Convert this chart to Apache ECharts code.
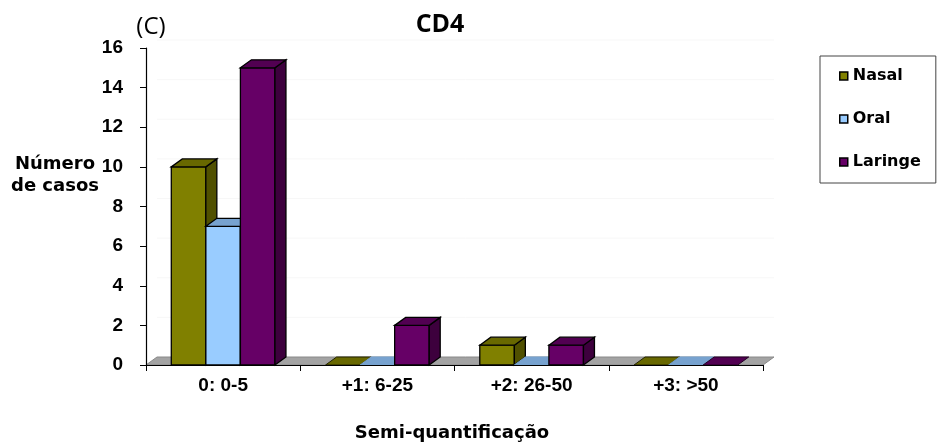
<!DOCTYPE html>
<html>
<head>
<meta charset="utf-8">
<script src="https://cdn.jsdelivr.net/npm/echarts@6/dist/echarts.min.js"></script>
<style>
  html, body { margin: 0; padding: 0; background: #fff; }
  #chart { width: 938px; height: 443px; }
</style>
</head>
<body>
<div id="chart"></div>
<script>
// Semi-quantification classes on the x axis
const categories = ['0: 0-5', '+1: 6-25', '+2: 26-50', '+3: >50'];
// Number of cases per site
const nasal = [10, 0, 1, 0];
const oral = [7, 0, 0, 0];
const laringe = [15, 2, 1, 0];
// Value-axis ticks
const yMin = 0, yMax = 16, yStep = 2;

// Depth offset of the pseudo-3D boxes (pixels)
const DX = 11, DY = -8;

const looks = {
  Nasal:   { front: '#808000', top: '#686800', side: '#505000', edge: '#222200' },
  Oral:    { front: '#99ccff', top: '#77a2cf', side: '#7aa3cc', edge: '#77a2cf' },
  Laringe: { front: '#660066', top: '#520052', side: '#3d003d', edge: '#220022' }
};

// Draws one box per data item; slot is the bar's position inside its category group
function boxRenderer(slot, c) {
  return function (params, api) {
    const cat = api.value(0), v = api.value(1);
    const band = api.size([1, 0])[0];
    const bw = band * 0.224;
    const base = api.coord([cat, 0]);
    const head = api.coord([cat, v]);
    const cx = base[0] + slot * bw;
    const x0 = cx - bw / 2, x1 = cx + bw / 2;
    const yb = base[1], yt = head[1];
    const lw = 1.3;
    const kids = [];
    if (v > 0) {
      kids.push({ type: 'rect', shape: { x: x0, y: yt, width: bw, height: yb - yt },
        style: { fill: c.front, stroke: '#000', lineWidth: lw } });
      kids.push({ type: 'polygon', shape: { points: [[x1, yt], [x1 + DX, yt + DY], [x1 + DX, yb + DY], [x1, yb]] },
        style: { fill: c.side, stroke: '#000', lineWidth: lw } });
    }
    kids.push({ type: 'polygon', shape: { points: [[x0, yt], [x0 + DX, yt + DY], [x1 + DX, yt + DY], [x1, yt]] },
      style: { fill: c.top, stroke: v > 0 ? '#000' : c.edge, lineWidth: v > 0 ? lw : 1 } });
    return { type: 'group', children: kids };
  };
}

// Gray floor under the boxes plus faint back-wall gridlines
function floorRenderer(params, api) {
  const band = api.size([1, 0])[0];
  const p0 = api.coord([0, 0]);
  const p3 = api.coord([categories.length - 1, 0]);
  const xl = p0[0] - band / 2, xr = p3[0] + band / 2, y = p0[1];
  const kids = [];
  for (let t = yStep; t <= yMax; t += yStep) {
    const yy = api.coord([0, t])[1] + DY;
    kids.push({ type: 'line', shape: { x1: xl + DX, y1: yy, x2: xr + DX, y2: yy },
      style: { stroke: '#f7f7f7', lineWidth: 1 } });
  }
  kids.push({ type: 'polygon', shape: { points: [[xl, y], [xl + DX, y + DY], [xr + DX, y + DY], [xr, y]] },
    style: { fill: '#a3a3a3', stroke: '#8a8a8a', lineWidth: 1 } });
  return { type: 'group', children: kids };
}

const toData = arr => arr.map((v, i) => [i, v]);

const chart = echarts.init(document.getElementById('chart'), null, { renderer: 'canvas' });

chart.setOption({
  animation: false,
  backgroundColor: '#fff',
  grid: { left: 146, right: 175, top: 48, bottom: 78 },
  xAxis: {
    type: 'category',
    data: categories,
    z: 5,
    axisLine: { lineStyle: { color: '#000', width: 1.2 } },
    axisTick: { show: true, length: 6, lineStyle: { color: '#000' } },
    axisLabel: { fontFamily: 'Liberation Sans', fontWeight: 'bold', fontSize: 19, color: '#000', margin: 11 }
  },
  yAxis: {
    type: 'value',
    min: yMin, max: yMax, interval: yStep,
    z: 5,
    splitLine: { show: false },
    axisLine: { show: true, lineStyle: { color: '#000', width: 1.2 } },
    axisTick: { show: true, length: 6, lineStyle: { color: '#000' } },
    axisLabel: { fontFamily: 'Liberation Sans', fontWeight: 'bold', fontSize: 19, color: '#000', margin: 23 }
  },
  legend: {
    orient: 'vertical',
    left: 820, top: 56,
    padding: [12, 15, 13, 19],
    itemWidth: 8, itemHeight: 8,
    itemGap: 27,
    borderColor: '#444', borderWidth: 1,
    textStyle: { fontFamily: 'DejaVu Sans', fontWeight: 'bold', fontSize: 16, color: '#000', lineHeight: 14 },
    data: [
      { name: 'Nasal', icon: 'rect', itemStyle: { color: looks.Nasal.front, borderColor: '#000', borderWidth: 1.5 } },
      { name: 'Oral', icon: 'rect', itemStyle: { color: looks.Oral.front, borderColor: '#000', borderWidth: 1.5 } },
      { name: 'Laringe', icon: 'rect', itemStyle: { color: looks.Laringe.front, borderColor: '#000', borderWidth: 1.5 } }
    ]
  },
  graphic: [
    { type: 'text', x: 151, y: 27,
      style: { text: '(C)', font: 'normal 24px "Open Sans"', fill: '#000', align: 'center', verticalAlign: 'middle' } },
    { type: 'text', x: 440, y: 25,
      style: { text: 'CD4', font: 'bold 25px "Open Sans"', fill: '#000', align: 'center', verticalAlign: 'middle' } },
    { type: 'text', x: 55, y: 175,
      style: { text: 'Número\nde casos', font: 'bold 18px "DejaVu Sans"', lineHeight: 22, fill: '#000', align: 'center', verticalAlign: 'middle' } },
    { type: 'text', x: 452, y: 433,
      style: { text: 'Semi-quantificação', font: 'bold 18px "DejaVu Sans"', fill: '#000', align: 'center', verticalAlign: 'middle' } }
  ],
  series: [
    { name: 'floor', type: 'custom', z: 1, silent: true, data: [[0, 0]],
      encode: { x: 0, y: 1 }, renderItem: floorRenderer },
    { name: 'Nasal', type: 'custom', z: 2, itemStyle: { color: looks.Nasal.front },
      data: toData(nasal), encode: { x: 0, y: 1 }, renderItem: boxRenderer(-1, looks.Nasal) },
    { name: 'Oral', type: 'custom', z: 2, itemStyle: { color: looks.Oral.front },
      data: toData(oral), encode: { x: 0, y: 1 }, renderItem: boxRenderer(0, looks.Oral) },
    { name: 'Laringe', type: 'custom', z: 2, itemStyle: { color: looks.Laringe.front },
      data: toData(laringe), encode: { x: 0, y: 1 }, renderItem: boxRenderer(1, looks.Laringe) }
  ]
});
</script>
</body>
</html>
